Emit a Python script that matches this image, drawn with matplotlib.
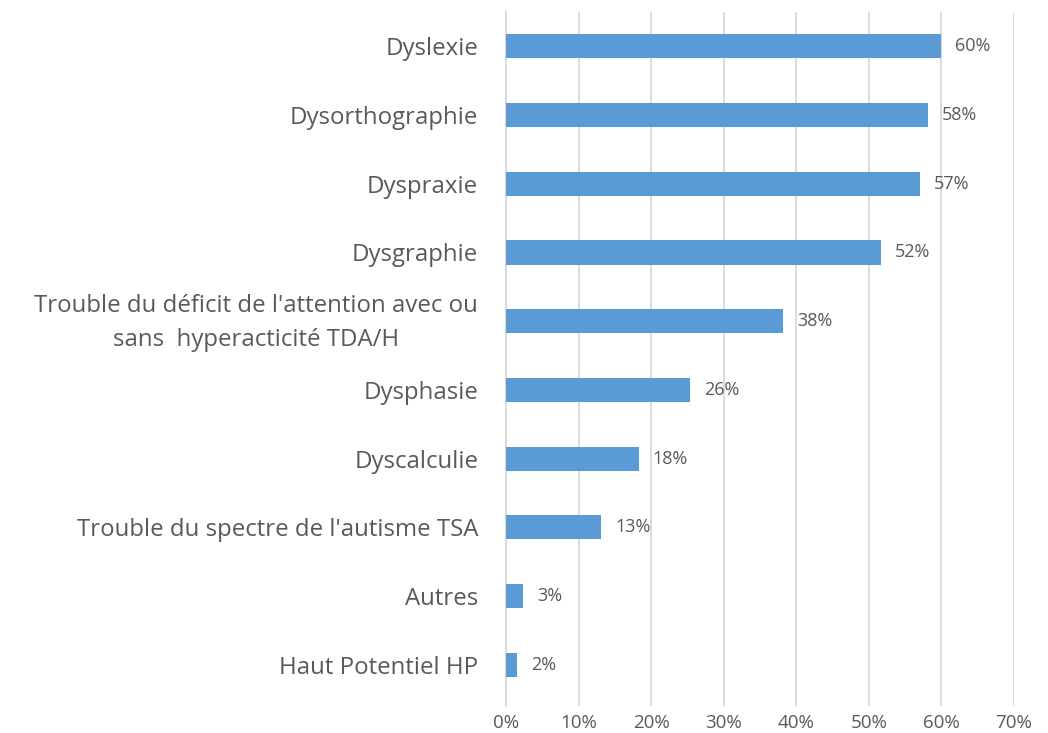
import matplotlib.pyplot as plt
import matplotlib.transforms as mtransforms
import numpy as np

plt.rcParams['font.family'] = ['Open Sans', 'DejaVu Sans']

categories = [
    "Dyslexie",
    "Dysorthographie",
    "Dyspraxie",
    "Dysgraphie",
    "Trouble du déficit de l'attention avec ou\nsans  hyperacticité TDA/H",
    "Dysphasie",
    "Dyscalculie",
    "Trouble du spectre de l'autisme TSA",
    "Autres",
    "Haut Potentiel HP",
]
values = [59.9, 58.2, 57.0, 51.7, 38.2, 25.4, 18.3, 13.1, 2.4, 1.5]
value_labels = ["60%", "58%", "57%", "52%", "38%", "26%", "18%", "13%", "3%", "2%"]
xticks = [0, 10, 20, 30, 40, 50, 60, 70]

text_color = '#595959'
grid_color = '#d9d9d9'
bar_color = '#5b9bd5'

fig = plt.figure(figsize=(10.48, 7.33), dpi=100)
ax = fig.add_axes([506 / 1048, 1 - 706 / 733, (1014 - 506) / 1048, (706 - 12) / 733])

y = np.arange(len(categories))
rects = ax.barh(y, values, height=0.35, color=bar_color, zorder=3)

for rect, lab in zip(rects, value_labels):
    ax.annotate(lab, (rect.get_width(), rect.get_y() + rect.get_height() / 2),
                xytext=(10, 0), textcoords='offset points',
                ha='left', va='center', fontsize=13, color=text_color)

ax.set_xlim(0, 70)
ax.set_ylim(9.6, -0.5)
ax.set_xticks(xticks, [f"{t}%" for t in xticks])
ax.set_yticks(y, categories)
ax.xaxis.grid(True, color=grid_color, linewidth=1.3, zorder=0)
ax.tick_params(axis='x', length=0, labelsize=13.5, labelcolor=text_color, pad=6)
ax.tick_params(axis='y', length=0, labelsize=17.3, labelcolor=text_color, pad=20)
for lab in ax.get_yticklabels():
    lab.set_multialignment('center')
    lab.set_linespacing(1.55)
    if '\n' in lab.get_text():
        # nudge the two-line label up a little
        lab.set_transform(lab.get_transform() +
                          mtransforms.ScaledTranslation(0, 6 / 100, fig.dpi_scale_trans))
for s in ['top', 'right', 'bottom']:
    ax.spines[s].set_visible(False)
ax.spines['left'].set_color(grid_color)
ax.spines['left'].set_linewidth(1.3)

plt.savefig('out.png', dpi=100)
